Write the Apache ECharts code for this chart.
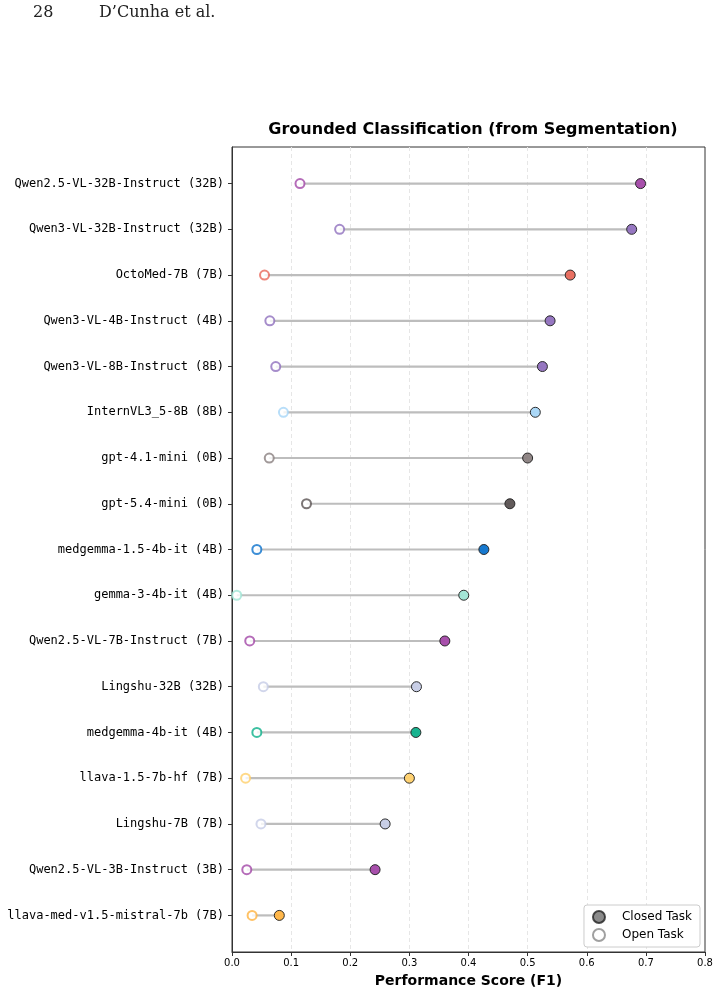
<!DOCTYPE html>
<html>
<head>
<meta charset="utf-8">
<script src="https://cdn.jsdelivr.net/npm/echarts@6/dist/echarts.min.js"></script>
<style>
  html, body { margin: 0; padding: 0; background: #fff; }
  #chart { width: 719px; height: 993px; }
</style>
</head>
<body>
<div id="chart"></div>
<script>
  // models, top to bottom
  var models = [
    'Qwen2.5-VL-32B-Instruct (32B)',
    'Qwen3-VL-32B-Instruct (32B)',
    'OctoMed-7B (7B)',
    'Qwen3-VL-4B-Instruct (4B)',
    'Qwen3-VL-8B-Instruct (8B)',
    'InternVL3_5-8B (8B)',
    'gpt-4.1-mini (0B)',
    'gpt-5.4-mini (0B)',
    'medgemma-1.5-4b-it (4B)',
    'gemma-3-4b-it (4B)',
    'Qwen2.5-VL-7B-Instruct (7B)',
    'Lingshu-32B (32B)',
    'medgemma-4b-it (4B)',
    'llava-1.5-7b-hf (7B)',
    'Lingshu-7B (7B)',
    'Qwen2.5-VL-3B-Instruct (3B)',
    'llava-med-v1.5-mistral-7b (7B)'
  ]
  var closedScores = [0.691, 0.676, 0.572, 0.538, 0.525, 0.513, 0.500, 0.470, 0.426, 0.392, 0.360, 0.312, 0.311, 0.300, 0.259, 0.242, 0.080]
  var openScores = [0.115, 0.182, 0.055, 0.064, 0.074, 0.087, 0.063, 0.126, 0.042, 0.008, 0.030, 0.053, 0.042, 0.023, 0.049, 0.025, 0.034]
  var colors = [
    '#a347a8', '#9070be', '#e8685a', '#9070be', '#9070be', '#a6d6f7',
    '#8a8080', '#5a5252', '#0b72cc', '#9fe5d5', '#a347a8', '#c6cce6',
    '#0db08a', '#ffd06a', '#c6cce6', '#a347a8', '#ffb340'
  ]
  var xTicks = [0, 0.1, 0.2, 0.3, 0.4, 0.5, 0.6, 0.7, 0.8]

  var rows = models.map(function (m, i) { return i })

  var chart = echarts.init(document.getElementById('chart'), null, { renderer: 'canvas' })

  chart.setOption({
    animation: false,
    backgroundColor: '#fff',
    textStyle: { fontFamily: 'DejaVu Sans' },
    graphic: [
      { type: 'text', left: 33, top: 5, style: { text: '28', font: '16px "DejaVu Serif"', fill: '#222' } },
      { type: 'text', left: 99, top: 5, style: { text: 'D\u2019Cunha et al.', font: '16px "DejaVu Serif"', fill: '#222' } }
    ],
    title: {
      text: 'Grounded Classification (from Segmentation)',
      left: 468,
      textAlign: 'center',
      top: 117,
      textStyle: { fontSize: 16, fontWeight: 'bold', color: '#000', fontFamily: 'DejaVu Sans' }
    },
    legend: {
      orient: 'vertical',
      right: 19,
      bottom: 46,
      padding: [5, 8, 5, 8],
      itemGap: 4,
      itemWidth: 12,
      itemHeight: 12,
      borderColor: '#ccc',
      borderWidth: 1,
      borderRadius: 3,
      backgroundColor: '#fff',
      textStyle: { fontSize: 12, color: '#000', padding: [0, 0, 0, 12] },
      data: ['Closed Task', 'Open Task']
    },
    grid: {
      left: 232,
      right: 14,
      top: 147,
      bottom: 40,
      show: true,
      borderColor: '#333',
      borderWidth: 1
    },
    xAxis: {
      type: 'value',
      min: 0,
      max: 0.8,
      interval: 0.1,
      name: 'Performance Score (F1)',
      nameLocation: 'middle',
      nameGap: 22,
      nameTextStyle: { fontSize: 14, fontWeight: 'bold', color: '#000' },
      axisLine: { show: true, onZero: false, lineStyle: { color: '#333' } },
      axisTick: { show: true, length: 4, lineStyle: { color: '#333' } },
      axisLabel: {
        fontSize: 10,
        color: '#000',
        margin: 6,
        formatter: function (v) { return v.toFixed(1) }
      },
      splitLine: {
        show: true,
        showMinLine: false,
        showMaxLine: false,
        lineStyle: { color: '#e6e6e6', type: [4, 3], width: 1 }
      }
    },
    yAxis: {
      type: 'value',
      inverse: true,
      min: -0.8,
      max: models.length - 0.2,
      axisLine: { show: true, onZero: false, lineStyle: { color: '#333' } },
      axisTick: { show: true, length: 4, customValues: rows, lineStyle: { color: '#333' } },
      axisLabel: {
        customValues: rows,
        fontSize: 12,
        fontFamily: 'DejaVu Sans Mono',
        color: '#000',
        margin: 8,
        formatter: function (v) { return models[Math.round(v)] || '' }
      },
      splitLine: { show: false }
    },
    series: [
      {
        type: 'custom',
        name: 'range',
        silent: true,
        z: 1,
        data: rows.map(function (i) { return [openScores[i], closedScores[i], i] }),
        encode: { x: [0, 1], y: 2 },
        renderItem: function (params, api) {
          var a = api.coord([api.value(0), api.value(2)])
          var b = api.coord([api.value(1), api.value(2)])
          return {
            type: 'line',
            shape: { x1: a[0], y1: a[1], x2: b[0], y2: b[1] },
            style: { stroke: '#bdbdbd', lineWidth: 2.2 }
          }
        }
      },
      {
        type: 'scatter',
        name: 'Closed Task',
        z: 3,
        symbolSize: 10,
        itemStyle: { color: '#6e6e6e', borderColor: '#222', borderWidth: 1 },
        data: rows.map(function (i) {
          return {
            value: [closedScores[i], i],
            itemStyle: { color: colors[i], borderColor: '#222', borderWidth: 1, opacity: 0.95 }
          }
        })
      },
      {
        type: 'scatter',
        name: 'Open Task',
        z: 3,
        symbolSize: 9,
        itemStyle: { color: '#fff', borderColor: '#888', borderWidth: 2 },
        data: rows.map(function (i) {
          return {
            value: [openScores[i], i],
            itemStyle: { color: '#fff', borderColor: colors[i], borderWidth: 2 }
          }
        })
      }
    ]
  })
</script>
</body>
</html>
